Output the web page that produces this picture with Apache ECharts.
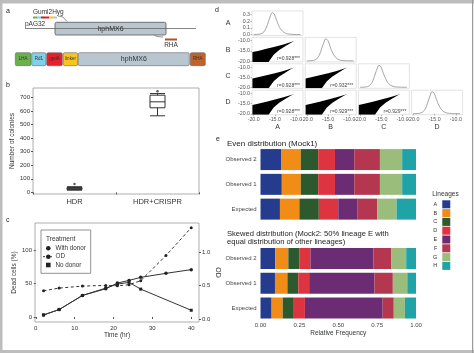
<!DOCTYPE html>
<html><head><meta charset="utf-8">
<script src="https://cdn.jsdelivr.net/npm/echarts@6/dist/echarts.min.js"></script>
<style>html,body{margin:0;padding:0;background:#fff}#c{width:474px;height:353px}</style>
</head><body><div id="c"></div>
<script>
// ---------------- Panel b data ----------------
const boxCategories = ['HDR', 'HDR+CRISPR'];
const boxStats = [[16, 21, 28, 36, 42], [565, 624, 668, 717, 729]]; // min, Q1, median, Q3, max
const boxOutliers = [62, 746];
const colonyTicks = [0, 100, 200, 300, 400, 500, 600, 700];

// ---------------- Panel c data ----------------
const timeWith = [2, 6, 12, 18, 21, 24, 27, 33.5, 40];
const deadWith = [3, 11, 32, 42, 50.5, 54.5, 59, 65, 70.5];
const timeNo = [2, 6, 12, 18, 21, 24, 27, 40];
const deadNo = [3, 11, 32, 43, 49, 51.5, 41.5, 10];
const timeOD = [2, 6, 12, 18, 21, 24, 27, 33.5, 40];
const odValues = [0.42, 0.46, 0.49, 0.50, 0.495, 0.51, 0.57, 0.945, 1.36];
const timeTicks = [0, 10, 20, 30, 40];
const deadTicks = [0, 50, 100];
const odTicks = [0, 0.5, 1.0];

// ---------------- Panel d data ----------------
const sampleNames = ['A', 'B', 'C', 'D'];
const densX = [-20, -19, -18, -17.5, -17, -16.5, -16, -15.6, -15.2, -14.8, -14.4, -14, -13.5, -13, -12.5, -12, -11, -10, -9];
const densA = [0, 0.003, 0.02, 0.05, 0.11, 0.2, 0.29, 0.33, 0.31, 0.25, 0.18, 0.12, 0.07, 0.04, 0.02, 0.01, 0.003, 0.001, 0];
const densB = [0, 0.003, 0.018, 0.045, 0.1, 0.19, 0.28, 0.33, 0.32, 0.27, 0.19, 0.13, 0.075, 0.04, 0.02, 0.01, 0.003, 0.001, 0];
const densC = [0, 0.003, 0.018, 0.045, 0.1, 0.19, 0.28, 0.33, 0.32, 0.26, 0.19, 0.13, 0.075, 0.04, 0.02, 0.01, 0.003, 0.001, 0];
const densD = [0, 0.003, 0.018, 0.045, 0.1, 0.19, 0.28, 0.33, 0.32, 0.26, 0.19, 0.13, 0.075, 0.04, 0.02, 0.01, 0.003, 0.001, 0];
const densities = [densA, densB, densC, densD];
// outline of the dense point cloud in each pairwise scatter (data units)
const wedgeX = [-20.3, -20.3, -19.0, -17.0, -15.0, -13.0, -11.2, -10.5, -11.2, -12.5, -14.0, -15.3, -16.5];
const wedgeY = [-20.4, -15.6, -15.0, -14.0, -13.0, -11.9, -10.7, -10.2, -11.0, -12.6, -14.6, -16.9, -20.4];
const corrLabels = { '1-0': 'r=0.928***', '2-0': 'r=0.928***', '2-1': 'r=0.932***', '3-0': 'r=0.928***', '3-1': 'r=0.929***', '3-2': 'r=0.929***' };
const logTicks = [-20, -15, -10];
const densTicks = [0, 0.1, 0.2, 0.3];

// ---------------- Panel e data ----------------
const lineages = ['A', 'B', 'C', 'D', 'E', 'F', 'G', 'H'];
const lineageColors = ['#243b8e', '#f18c17', '#2c5a2e', '#dd3440', '#6c2c74', '#b5364f', '#9bbd7b', '#1fa3a6'];
const rowNames = ['Observed 2', 'Observed 1', 'Expected'];
const evenObserved2 = [0.135, 0.124, 0.112, 0.108, 0.124, 0.165, 0.143, 0.089];
const evenObserved1 = [0.137, 0.122, 0.112, 0.108, 0.124, 0.165, 0.143, 0.089];
const evenExpected = [0.125, 0.125, 0.125, 0.125, 0.125, 0.125, 0.125, 0.125];
const skewObserved2 = [0.095, 0.084, 0.070, 0.072, 0.405, 0.116, 0.095, 0.063];
const skewObserved1 = [0.093, 0.080, 0.070, 0.070, 0.420, 0.118, 0.093, 0.056];
const skewExpected = [0.0714, 0.0714, 0.0714, 0.0714, 0.5, 0.0714, 0.0714, 0.0716];
const freqTicks = [0, 0.25, 0.5, 0.75, 1];

// ---------------- build ----------------
const FONT = 'Liberation Sans';
const grids = [], xAxes = [], yAxes = [], series = [], G = [];
const T = (x, y, text, size, extra) => ({ type: 'text', x, y, z: 100, style: Object.assign({ text, fontSize: size, fontFamily: FONT, fill: '#222', align: 'left', verticalAlign: 'middle' }, extra || {}) });
const R = (x, y, w, h, fill, extra) => ({ type: 'rect', z: 90, shape: { x, y, width: w, height: h, r: (extra && extra.r) || 0 }, style: Object.assign({ fill }, (extra && extra.style) || {}) });
const L = (x1, y1, x2, y2, stroke, w, dash) => ({ type: 'line', z: 95, shape: { x1, y1, x2, y2 }, style: { stroke, lineWidth: w || 1, lineDash: dash || null } });

// figure frame
G.push(R(0, 0, 474, 3.5, '#bdbdbd'), R(0, 0, 2.5, 353, '#bdbdbd'), R(0, 350, 474, 3, '#bdbdbd'), R(472, 0, 1.2, 353, '#9a9a9a'));

// panel labels
G.push(T(6, 11, 'a', 7), T(6, 85, 'b', 7), T(6, 220, 'c', 7), T(215, 10, 'd', 7), T(216, 139, 'e', 7));

// ---- Panel a (construct diagram) ----
G.push(L(25, 28.5, 196, 28.5, '#666', 0.8));
G.push(T(25, 24.5, 'pAG32', 6.5, { fill: '#333' }));
G.push(T(33, 12.5, 'Gumi2Hyg', 6.5, { fill: '#333' }));
const miniCols = ['#6ab04c', '#7fd0e8', '#c8202a', '#e8202a', '#f7c51e', '#b9c6cf'];
miniCols.forEach((c, i) => G.push(R(33 + i * 4, 16.5, 4, 2, c)));
G.push({ type: 'polyline', z: 95, shape: { points: [[58, 16], [63, 17], [67, 21.5]] }, style: { stroke: '#777', lineWidth: 0.8, fill: null } });
G.push(R(55, 22.3, 111, 12.7, '#b9c6cf', { r: 1.5, style: { stroke: '#555', lineWidth: 0.8 } }));
G.push(T(110.5, 28.8, 'hphMX6', 7, { align: 'center', fill: '#333' }));
G.push({ type: 'polyline', z: 95, shape: { points: [[163, 37], [157, 36.5], [154, 35]] }, style: { stroke: '#777', lineWidth: 0.8, fill: null } });
G.push(R(165, 38.5, 12, 2, '#a8552a'));
G.push(T(171, 45, 'RHA', 6.5, { align: 'center', fill: '#333' }));
const row2 = [
  [15.3, 15.7, '#6ab04c', 'LHA'], [31.7, 14.3, '#7fd0e8', 'Rd1'], [46.7, 15.6, '#e8202a', 'gpdA'],
  [63.3, 14.4, '#f7c51e', 'linker'], [78.3, 111, '#b9c6cf', 'hphMX6'], [190.3, 15, '#c0622a', 'RHA']
];
row2.forEach(([x, w, c, t]) => {
  G.push(R(x, 52.7, w, 13, c, { r: 1.5, style: { stroke: '#666', lineWidth: 0.6 } }));
  G.push(T(x + w / 2, 59.2, t, t === 'hphMX6' ? 7 : 4.5, { align: 'center', fill: '#333' }));
});

// ---- Panel b (boxplot) ----
grids.push({ left: 33, top: 88, width: 166, height: 106, show: true, borderColor: '#9a9a9a', borderWidth: 0.8 });
xAxes.push({ type: 'category', gridIndex: 0, data: boxCategories, axisLine: { show: false }, axisTick: { show: true, length: 2, lineStyle: { color: '#555' } }, axisLabel: { fontSize: 7.5, color: '#333', margin: 4 } });
yAxes.push({ type: 'value', gridIndex: 0, min: -12, max: 770, axisLine: { show: false }, splitLine: { show: false }, axisTick: { show: true, length: 2, lineStyle: { color: '#555' }, customValues: colonyTicks }, axisLabel: { customValues: colonyTicks, fontSize: 6, color: '#333', margin: 3 }, name: 'Number of colonies', nameLocation: 'middle', nameGap: 16, nameTextStyle: { fontSize: 6.5, color: '#333' } });
series.push({ type: 'boxplot', xAxisIndex: 0, yAxisIndex: 0, data: boxStats, boxWidth: [15, 15], itemStyle: { color: '#fff', borderColor: '#333', borderWidth: 1 } });
series.push({ type: 'scatter', xAxisIndex: 0, yAxisIndex: 0, data: boxOutliers.map((v, i) => [i, v]), symbolSize: 2.5, itemStyle: { color: '#333' } });

// ---- Panel c (time course) ----
grids.push({ left: 35, top: 223, width: 164, height: 99, show: true, borderColor: '#9a9a9a', borderWidth: 0.8 });
xAxes.push({ type: 'value', gridIndex: 1, min: -0.2, max: 42, axisLine: { show: false }, splitLine: { show: false }, axisTick: { show: true, length: 2, lineStyle: { color: '#555' }, customValues: timeTicks }, axisLabel: { customValues: timeTicks, fontSize: 6, color: '#333', margin: 3 }, name: 'Time (hr)', nameLocation: 'middle', nameGap: 10, nameTextStyle: { fontSize: 6.5, color: '#333' } });
yAxes.push({ type: 'value', gridIndex: 1, min: -7.5, max: 140, axisLine: { show: false }, splitLine: { show: false }, axisTick: { show: true, length: 2, lineStyle: { color: '#555' }, customValues: deadTicks }, axisLabel: { customValues: deadTicks, fontSize: 6, color: '#333', margin: 3 }, name: 'Dead cells (%)', nameLocation: 'middle', nameGap: 15, nameTextStyle: { fontSize: 6.5, color: '#333' } });
yAxes.push({ type: 'value', gridIndex: 1, position: 'right', min: -0.045, max: 1.43, axisLine: { show: false }, splitLine: { show: false }, axisTick: { show: true, length: 2, lineStyle: { color: '#555' }, customValues: odTicks }, axisLabel: { customValues: odTicks, formatter: v => v.toFixed(1), fontSize: 6, color: '#333', margin: 3 }, name: 'OD', nameLocation: 'middle', nameRotate: -90, nameGap: 10, nameTextStyle: { fontSize: 7, color: '#333' } });
series.push({ type: 'line', name: 'With donor', xAxisIndex: 1, yAxisIndex: 1, data: timeWith.map((t, i) => [t, deadWith[i]]), symbol: 'circle', symbolSize: 3.5, itemStyle: { color: '#222' }, lineStyle: { color: '#333', width: 1 } });
series.push({ type: 'line', name: 'No donor', xAxisIndex: 1, yAxisIndex: 1, data: timeNo.map((t, i) => [t, deadNo[i]]), symbol: 'rect', symbolSize: 3, itemStyle: { color: '#222' }, lineStyle: { color: '#333', width: 1 } });
series.push({ type: 'line', name: 'OD', xAxisIndex: 1, yAxisIndex: 2, data: timeOD.map((t, i) => [t, odValues[i]]), symbol: 'circle', symbolSize: 3, itemStyle: { color: '#222' }, lineStyle: { color: '#333', width: 1, type: [3, 2.5] } });
// legend box of panel c
G.push(R(41, 230, 49.7, 43.3, '#fff', { style: { stroke: '#777', lineWidth: 0.8 } }));
G.push(T(46, 239.3, 'Treatment', 6.5, { fill: '#333' }));
G.push({ type: 'circle', z: 101, shape: { cx: 48.3, cy: 248.3, r: 2.3 }, style: { fill: '#222' } });
G.push(T(55.5, 248.3, 'With donor', 6.3, { fill: '#333' }));
G.push(L(43, 256.7, 53, 256.7, '#222', 0.9, [2, 1.5]));
G.push({ type: 'circle', z: 101, shape: { cx: 48.3, cy: 256.7, r: 2.3 }, style: { fill: '#222' } });
G.push(T(55.5, 256.7, 'OD', 6.3, { fill: '#333' }));
G.push(R(46, 262.7, 4.6, 4.6, '#222'));
G.push(T(55.5, 265, 'No donor', 6.3, { fill: '#333' }));

// ---- Panel d (pairs plot) ----
const dLeft = c => 252 + c * 53.2, dTop = r => 11 + r * 26.4, dW = 51, dH = 24.5;
const tickStyle = { show: true, length: 1.5, lineStyle: { color: '#888', width: 0.6 } };
for (let r = 0; r < 4; r++) {
  for (let c = 0; c <= r; c++) {
    const gi = grids.length;
    grids.push({ left: dLeft(c), top: dTop(r), width: dW, height: dH, show: true, borderColor: '#d0d0d0', borderWidth: 0.6 });
    const xi = xAxes.length, yi = yAxes.length;
    const bottom = r === 3, leftCol = c === 0;
    xAxes.push({ type: 'value', gridIndex: gi, min: -20.4, max: -8.4, axisLine: { show: false }, splitLine: { show: false }, axisTick: Object.assign({ customValues: logTicks }, tickStyle, { show: bottom }), axisLabel: { show: bottom, customValues: logTicks, formatter: v => v.toFixed(1), fontSize: 5.3, color: '#555', margin: 2 } });
    if (r === c) {
      yAxes.push({ type: 'value', gridIndex: gi, min: -0.015, max: 0.355, axisLine: { show: false }, splitLine: { show: false }, axisTick: Object.assign({ customValues: densTicks }, tickStyle, { show: leftCol }), axisLabel: { show: leftCol, customValues: densTicks, formatter: v => v.toFixed(1), fontSize: 5.3, color: '#555', margin: 2 } });
      series.push({ type: 'line', xAxisIndex: xi, yAxisIndex: yi, data: densX.map((x, i) => [x, densities[r][i]]), smooth: 0.5, symbol: 'none', lineStyle: { color: '#8a8a8a', width: 0.8 } });
    } else {
      yAxes.push({ type: 'value', gridIndex: gi, min: -20.4, max: -8.4, axisLine: { show: false }, splitLine: { show: false }, axisTick: Object.assign({ customValues: logTicks }, tickStyle, { show: leftCol }), axisLabel: { show: leftCol, customValues: logTicks, formatter: v => v.toFixed(1), fontSize: 5.3, color: '#555', margin: 2 } });
      series.push({ type: 'custom', xAxisIndex: xi, yAxisIndex: yi, data: [[wedgeX[0], wedgeY[0]]], clip: true, silent: true,
        renderItem: (params, api) => ({ type: 'polygon', shape: { points: wedgeX.map((x, i) => api.coord([x, wedgeY[i]])) }, style: { fill: '#000' } }) });
      G.push(T(dLeft(c) + 48, dTop(r) + 21.5, corrLabels[r + '-' + c], 5, { align: 'right', fill: '#444' }));
    }
  }
}
sampleNames.forEach((n, i) => {
  G.push(T(228, dTop(i) + dH / 2, n, 7, { align: 'center', fill: '#333' }));
  G.push(T(dLeft(i) + dW / 2, 127.5, n, 7, { align: 'center', fill: '#333' }));
});

// ---- Panel e (stacked bars) ----
const eGroups = [
  { top: 147.2, rows: [evenObserved2, evenObserved1, evenExpected], stack: 'even', showX: false },
  { top: 246.1, rows: [skewObserved2, skewObserved1, skewExpected], stack: 'skew', showX: true }
];
eGroups.forEach(g => {
  const gi = grids.length;
  grids.push({ left: 260.5, top: g.top, width: 155.5, height: 74.3 });
  const xi = xAxes.length, yi = yAxes.length;
  xAxes.push({ type: 'value', gridIndex: gi, min: 0, max: 1, show: g.showX, axisLine: { show: false }, splitLine: { show: false }, axisTick: { show: false, customValues: freqTicks }, axisLabel: { customValues: freqTicks, formatter: v => v.toFixed(2), fontSize: 6, color: '#444', margin: 1.5 }, name: g.showX ? 'Relative Frequency' : '', nameLocation: 'middle', nameGap: 9.5, nameTextStyle: { fontSize: 6.5, color: '#333' } });
  yAxes.push({ type: 'category', gridIndex: gi, data: rowNames, inverse: true, axisLine: { show: false }, axisTick: { show: false }, axisLabel: { fontSize: 6, color: '#444', margin: 4 } });
  lineages.forEach((lin, k) => {
    series.push({ type: 'bar', name: lin, stack: g.stack, xAxisIndex: xi, yAxisIndex: yi, barWidth: 21, data: g.rows.map(row => row[k]), itemStyle: { color: lineageColors[k] } });
  });
});
G.push(T(227, 143.3, 'Even distribution (Mock1)', 8, { fill: '#222' }));
G.push(T(227, 234.3, 'Skewed distribution (Mock2: 50% lineage E with', 7.6, { fill: '#222' }));
G.push(T(227, 242.3, 'equal distribution of other lineages)', 7.6, { fill: '#222' }));
G.push(T(432.3, 194, 'Lineages', 6.5, { fill: '#333' }));

const chart = echarts.init(document.getElementById('c'), null, { renderer: 'canvas', width: 474, height: 353 });
chart.setOption({
  animation: false,
  backgroundColor: '#fff',
  textStyle: { fontFamily: FONT },
  grid: grids, xAxis: xAxes, yAxis: yAxes, series,
  legend: { data: lineages, orient: 'vertical', left: 433, top: 200.3, itemWidth: 8, itemHeight: 8, itemGap: 0.8, align: 'right', icon: 'rect', selectedMode: false, padding: 0, textStyle: { fontSize: 5.5, color: '#333', lineHeight: 8, padding: 0 } },
  graphic: { elements: G }
});
</script></body></html>
